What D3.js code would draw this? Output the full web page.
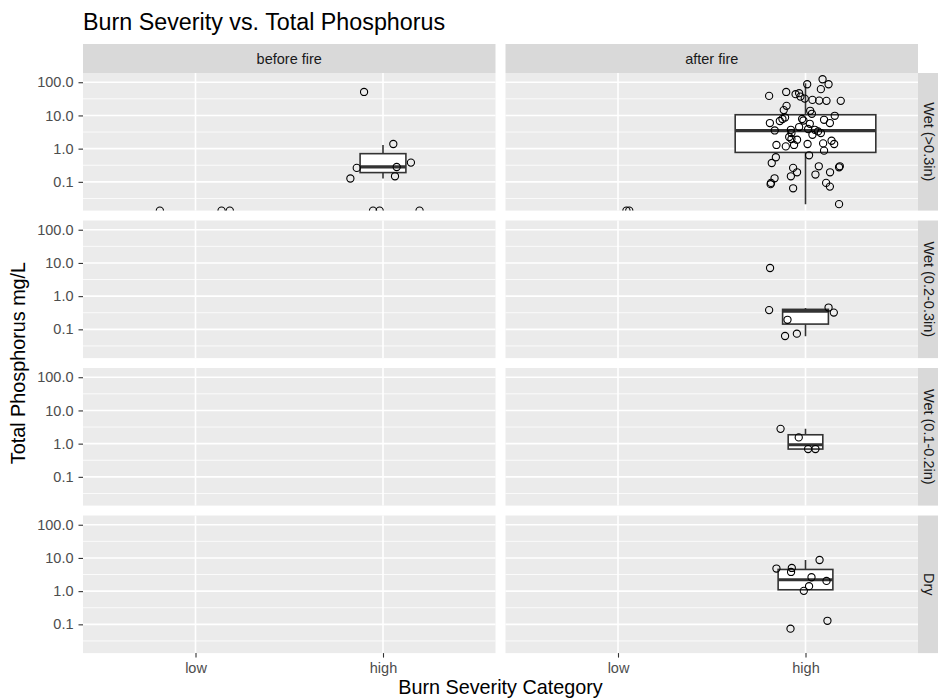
<!DOCTYPE html>
<html><head><meta charset="utf-8">
<script src="https://cdn.jsdelivr.net/npm/d3@7"></script>
<style>body{margin:0;background:#fff} text{font-family:"Liberation Sans",Arial,sans-serif}</style>
</head><body><svg id="chart" width="938" height="698"></svg>
<script>
const chartTitle = "Burn Severity vs. Total Phosphorus";
const xTitle = "Burn Severity Category";
const yTitle = "Total Phosphorus mg/L";
const categories = ["low", "high"];
const facetCols = ["before fire", "after fire"];
const facetRows = ["Wet (>0.3in)", "Wet (0.2-0.3in)", "Wet (0.1-0.2in)", "Dry"];
const yTicks = [0.1, 1, 10, 100];
const yTickLabels = ["0.1", "1.0", "10.0", "100.0"];

// jittered points: [category position (1 = low, 2 = high), value]; value 0 -> below log range
const ptsBeforeWet3 = [[1.899,51],[2.055,1.38],[1.86,0.263],[1.826,0.126],[2.073,0.28],[2.064,0.147],[2.149,0.38],
  [0.81,0],[1.139,0],[1.183,0],[1.947,0],[1.982,0],[2.195,0]];
const ptsBeforeWet2 = [];
const ptsBeforeWet1 = [];
const ptsBeforeDry = [];
const ptsAfterWet3 = [[2.091,123],[2.123,87],[2.009,87],[2.082,62],[1.806,38.8],[1.897,51],[1.947,43.7],[1.966,46.8],
  [1.973,37],[1.996,32.2],[2.037,29.4],[2.073,28],[2.112,27.5],[2.188,27.5],[1.899,19.5],[1.884,14.5],[2.025,13.8],
  [2.034,11.2],[2.156,9.75],[1.891,8.7],[1.877,7.8],[1.982,7.8],[1.989,7.05],[2.099,7.4],[2.13,5.9],[1.81,5.9],
  [1.863,6.8],[2.023,5.6],[1.966,4.47],[1.836,3.53],[1.922,3.7],[2.014,3.9],[2.05,3.7],[2.067,3.3],[1.925,2.95],
  [2.037,2.62],[2.082,2.95],[1.913,2.24],[1.925,1.95],[1.955,1.86],[1.845,1.29],[1.895,1.17],[1.939,1.29],[2.011,1.38],
  [2.094,1.44],[2.139,1.73],[2.153,1.38],[2.099,0.87],[2.019,0.63],[1.842,0.55],[1.82,0.37],[1.934,0.263],[2.071,0.294],
  [2.183,0.294],[2.179,0.274],[1.955,0.194],[2.053,0.166],[2.131,0.194],[1.922,0.147],[1.835,0.128],[1.816,0.093],
  [1.814,0.085],[2.11,0.093],[2.13,0.072],[1.934,0.064],[2.179,0.0213],[1.045,0],[1.06,0]];
const ptsAfterWet2 = [[1.811,7.05],[1.806,0.38],[1.904,0.194],[1.891,0.063],[1.954,0.074],[2.123,0.454],[2.151,0.32]];
const ptsAfterWet1 = [[1.867,2.79],[1.964,1.54],[2.014,0.687],[2.053,0.687]];
const ptsAfterDry = [[2.075,8.67],[1.845,4.79],[1.927,4.99],[1.923,3.78],[2.032,2.62],[2.112,2.03],[2.019,1.41],
  [1.991,1.02],[2.117,0.128],[1.92,0.074]];

// box statistics: [row, col, category, lower whisker, q1, median, q3, upper whisker]
const boxStats = [
  [0, 0, "high", 0.126, 0.19, 0.282, 0.706, 1.29],
  [0, 1, "high", 0.021, 0.77, 3.5, 10.5, 93],
  [1, 1, "high", 0.062, 0.144, 0.355, 0.40, 0.44],
  [2, 1, "high", 0.687, 0.687, 0.925, 1.85, 2.79],
  [3, 1, "high", 1.1, 1.1, 2.2, 4.5, 8.6]
];

const panelPoints = [
  [ptsBeforeWet3, ptsAfterWet3],
  [ptsBeforeWet2, ptsAfterWet2],
  [ptsBeforeWet1, ptsAfterWet1],
  [ptsBeforeDry, ptsAfterDry]
];

// ---- layout ----
const W = 938, H = 698;
const pLeft = 83, pTop = 73, colW = 412.5, colGap = 10, rowH = 137.6, rowGap = 9.9, stripH = 29;
const svg = d3.select("#chart");
svg.append("rect").attr("width", W).attr("height", H).attr("fill", "#fff");

// scales
const allVals = [];
panelPoints.forEach(r => r.forEach(p => p.forEach(d => { if (d[1] > 0) allVals.push(d[1]); })));
boxStats.forEach(b => b.slice(3).forEach(v => allVals.push(v)));
const lmin = Math.log10(d3.min(allVals)), lmax = Math.log10(d3.max(allVals));
const ext = 0.05 * (lmax - lmin);
const y = d3.scaleLog().domain([Math.pow(10, lmin - ext), Math.pow(10, lmax + ext)]).range([rowH, 0]);
const x = d3.scaleLinear().domain([0.4, categories.length + 0.6]).range([0, colW]);

// minor breaks (midpoints in log space)
const lt = yTicks.map(Math.log10);
const stepL = lt[1] - lt[0];
const ext2 = [lt[0] - stepL, ...lt, lt[lt.length - 1] + stepL];
const minor = [];
for (let i = 0; i < ext2.length - 1; i++) {
  const m = Math.pow(10, (ext2[i] + ext2[i + 1]) / 2);
  if (m >= y.domain()[0] && m <= y.domain()[1]) minor.push(m);
}

// n per box for varwidth
const boxN = boxStats.map(b => panelPoints[b[0]][b[1]].filter(d => d[1] > 0 && categories[Math.round(d[0]) - 1] === b[2]).length);
const nMax = d3.max(boxN);

// title
svg.append("text").attr("x", pLeft).attr("y", 30).attr("font-size", 23.3).attr("fill", "#000").text(chartTitle);

const defs = svg.append("defs");

facetRows.forEach((rowName, ri) => {
  facetCols.forEach((colName, ci) => {
    const px = pLeft + ci * (colW + colGap);
    const py = pTop + ri * (rowH + rowGap);
    const g = svg.append("g").attr("transform", `translate(${px},${py})`);
    g.append("rect").attr("width", colW).attr("height", rowH).attr("fill", "#EBEBEB");
    // minor grid
    g.selectAll(".mn").data(minor).enter().append("line")
      .attr("x1", 0).attr("x2", colW).attr("y1", d => y(d)).attr("y2", d => y(d))
      .attr("stroke", "#fff").attr("stroke-width", 0.8);
    // major grid
    g.selectAll(".mj").data(yTicks).enter().append("line")
      .attr("x1", 0).attr("x2", colW).attr("y1", d => y(d)).attr("y2", d => y(d))
      .attr("stroke", "#fff").attr("stroke-width", 1.6);
    g.selectAll(".mx").data(categories).enter().append("line")
      .attr("x1", (d, i) => x(i + 1)).attr("x2", (d, i) => x(i + 1)).attr("y1", 0).attr("y2", rowH)
      .attr("stroke", "#fff").attr("stroke-width", 1.6);

    const cid = `clip${ri}${ci}`;
    defs.append("clipPath").attr("id", cid).append("rect").attr("width", colW).attr("height", rowH);
    const data = g.append("g").attr("clip-path", `url(#${cid})`);

    // boxplots
    boxStats.forEach((b, bi) => {
      if (b[0] !== ri || b[1] !== ci) return;
      const cx = x(categories.indexOf(b[2]) + 1);
      const bw = 0.75 * Math.sqrt(boxN[bi] / nMax);
      const x0 = x(categories.indexOf(b[2]) + 1 - bw / 2), x1 = x(categories.indexOf(b[2]) + 1 + bw / 2);
      data.append("line").attr("x1", cx).attr("x2", cx).attr("y1", y(b[7])).attr("y2", y(b[6]))
        .attr("stroke", "#333").attr("stroke-width", 1.6);
      data.append("line").attr("x1", cx).attr("x2", cx).attr("y1", y(b[4])).attr("y2", y(b[3]))
        .attr("stroke", "#333").attr("stroke-width", 1.6);
      data.append("rect").attr("x", x0).attr("width", x1 - x0).attr("y", y(b[6])).attr("height", y(b[4]) - y(b[6]))
        .attr("fill", "#fff").attr("stroke", "#333").attr("stroke-width", 1.6);
      data.append("line").attr("x1", x0).attr("x2", x1).attr("y1", y(b[5])).attr("y2", y(b[5]))
        .attr("stroke", "#333").attr("stroke-width", 3.2);
    });

    // points
    data.selectAll("circle").data(panelPoints[ri][ci]).enter().append("circle")
      .attr("cx", d => x(d[0])).attr("cy", d => d[1] > 0 ? y(d[1]) : rowH)
      .attr("r", 3.6).attr("fill", "none").attr("stroke", "#000").attr("stroke-width", 1.1);

    // y axis
    if (ci === 0) {
      const ax = g.append("g").call(d3.axisLeft(y).tickValues(yTicks).tickFormat((d, i) => yTickLabels[i]).tickSize(4.5).tickPadding(5));
      ax.select(".domain").remove();
      ax.selectAll("line").attr("stroke", "#333").attr("stroke-width", 1.1);
      ax.selectAll("text").attr("fill", "#4D4D4D").attr("font-size", 14.5).attr("font-family", "Liberation Sans, Arial, sans-serif");
    }
    // x axis
    if (ri === facetRows.length - 1) {
      const ax = g.append("g").attr("transform", `translate(0,${rowH})`)
        .call(d3.axisBottom(x).tickValues(categories.map((c, i) => i + 1)).tickFormat((d) => categories[d - 1]).tickSize(4.5).tickPadding(5.3));
      ax.select(".domain").remove();
      ax.selectAll("line").attr("stroke", "#333").attr("stroke-width", 1.1);
      ax.selectAll("text").attr("fill", "#4D4D4D").attr("font-size", 14.5).attr("font-family", "Liberation Sans, Arial, sans-serif");
    }
    // top strips
    if (ri === 0) {
      svg.append("rect").attr("x", px).attr("y", pTop - stripH).attr("width", colW).attr("height", stripH).attr("fill", "#D9D9D9");
      svg.append("text").attr("x", px + colW / 2).attr("y", pTop - stripH / 2).attr("dy", "0.35em")
        .attr("text-anchor", "middle").attr("font-size", 14.5).attr("fill", "#1A1A1A").text(colName);
    }
    // right strips
    if (ci === facetCols.length - 1) {
      const sx = px + colW;
      svg.append("rect").attr("x", sx).attr("y", py).attr("width", stripH).attr("height", rowH).attr("fill", "#D9D9D9");
      svg.append("text").attr("transform", `translate(${Math.min(sx + stripH / 2, W - 8.5)},${py + rowH / 2}) rotate(90)`).attr("dy", "0.35em")
        .attr("text-anchor", "middle").attr("font-size", 14.5).attr("fill", "#1A1A1A").text(rowName);
    }
  });
});

const panelsBottom = pTop + facetRows.length * rowH + (facetRows.length - 1) * rowGap;
const panelsRight = pLeft + facetCols.length * colW + colGap;
svg.append("text").attr("x", (pLeft + panelsRight) / 2).attr("y", 694).attr("text-anchor", "middle")
  .attr("font-size", 19.8).attr("fill", "#000").text(xTitle);
svg.append("text").attr("transform", `translate(25,${(pTop + panelsBottom) / 2}) rotate(-90)`).attr("text-anchor", "middle")
  .attr("font-size", 19.8).attr("fill", "#000").text(yTitle);
</script></body></html>
